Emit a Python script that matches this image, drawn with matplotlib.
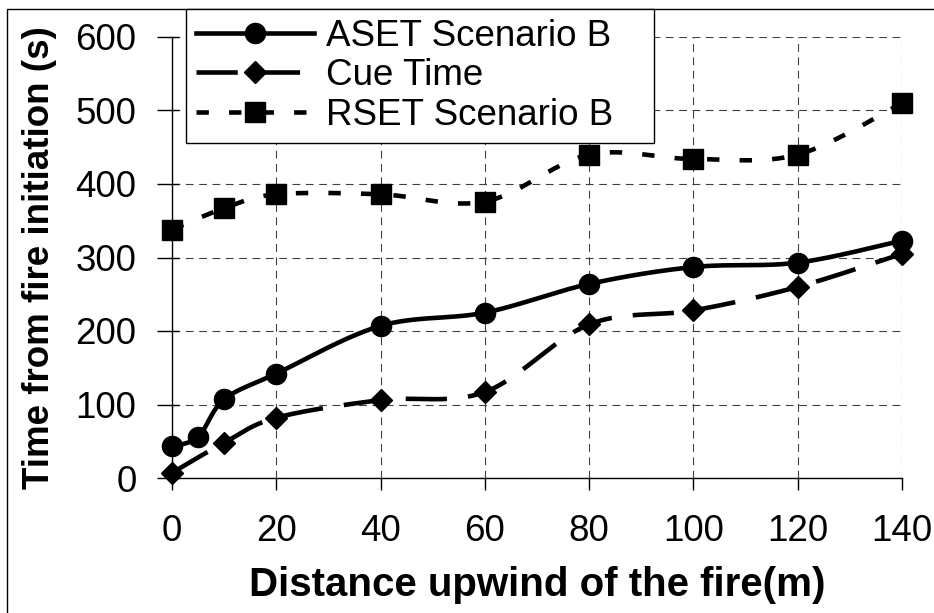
import numpy as np
import matplotlib
matplotlib.use('Agg')
import matplotlib.pyplot as plt
from matplotlib.lines import Line2D
from matplotlib.patches import Rectangle

plt.rcParams['font.family'] = ['Liberation Sans', 'DejaVu Sans']

# ---- data ----
distance_aset = [0, 5, 10, 20, 40, 60, 80, 100, 120, 140]
aset_b = [43, 56, 107, 142, 207, 225, 264, 287, 293, 323]

distance_cue = [0, 10, 20, 40, 60, 80, 100, 120, 140]
cue_time = [7, 48, 82, 106, 117, 209, 228, 260, 305]

distance_rset = [0, 10, 20, 40, 60, 80, 100, 120, 140]
rset_b = [338, 367, 386, 386, 376, 440, 434, 440, 510]

series_labels = ["ASET Scenario B", "Cue Time", "RSET Scenario B"]
x_ticks = [0, 20, 40, 60, 80, 100, 120, 140]
y_ticks = [0, 100, 200, 300, 400, 500, 600]
x_label = "Distance upwind of the fire(m)"
y_label = "Time from fire initiation (s)"

W, H = 934, 613
fig = plt.figure(figsize=(W / 100, H / 100), dpi=100)
ax = fig.add_axes([172 / W, 1 - 478 / H, (902 - 172) / W, (478 - 37) / H])
ax.set_xlim(x_ticks[0], x_ticks[-1])
ax.set_ylim(y_ticks[0], y_ticks[-1])


def smooth(xs, ys, n=40):
    """Excel-like smoothed line (Catmull-Rom Bezier) computed in display space."""
    pts = ax.transData.transform(np.column_stack([xs, ys]))
    P = np.vstack([pts[0], pts, pts[-1]])
    out = []
    t = np.linspace(0, 1, n)[:, None]
    for i in range(1, len(P) - 2):
        p0, p1, p2, p3 = P[i - 1], P[i], P[i + 1], P[i + 2]
        c1 = p1 + (p2 - p0) / 6.0
        c2 = p2 - (p3 - p1) / 6.0
        seg = (1 - t) ** 3 * p1 + 3 * (1 - t) ** 2 * t * c1 + 3 * (1 - t) * t ** 2 * c2 + t ** 3 * p2
        out.append(seg if i == 1 else seg[1:])
    curve = np.vstack(out)
    d = ax.transData.inverted().transform(curve)
    return d[:, 0], d[:, 1]


LW = 3.3
styles = [
    dict(ls='-', marker='o', ms=14.5, dashes=None),
    dict(ls='--', marker='D', ms=11.3, dashes=(9.0, 4.6)),
    dict(ls='--', marker='s', ms=14.0, dashes=(2.7, 4.4)),
]
data = [(distance_aset, aset_b), (distance_cue, cue_time), (distance_rset, rset_b)]

handles = []
for (xs, ys), st, lab in zip(data, styles, series_labels):
    sx, sy = smooth(xs, ys)
    line, = ax.plot(sx, sy, color='black', lw=LW, ls=st['ls'], zorder=3,
                    solid_capstyle='butt', dash_capstyle='butt')
    if st['dashes'] is not None:
        line.set_dashes(st['dashes'])
    ax.plot(xs, ys, ls='none', marker=st['marker'], ms=st['ms'],
            color='black', mec='black', zorder=4, clip_on=False)
    h = Line2D([], [], color='black', lw=LW, ls=st['ls'], marker=st['marker'],
               ms=st['ms'], mec='black', dash_capstyle='butt')
    if st['dashes'] is not None:
        h.set_dashes(st['dashes'])
    handles.append(h)

# grid & spines
ax.set_xticks(x_ticks)
ax.set_yticks(y_ticks)
ax.grid(True, color='#404040', lw=0.8, linestyle=(0, (7, 5)), zorder=1)
ax.set_axisbelow(True)
for s in ['top', 'right']:
    ax.spines[s].set_visible(False)
for s in ['left', 'bottom']:
    ax.spines[s].set_color('black')
    ax.spines[s].set_linewidth(1.0)
    ax.spines[s].set_zorder(2)

ax.tick_params(axis='x', which='major', direction='out', length=8.6, width=1,
               labelsize=26.5, pad=17)
ax.tick_params(axis='y', which='major', direction='out', length=10.5, width=1,
               labelsize=26.5, pad=15)
ax.yaxis.remove_overlapping_locs = False
ax.set_yticks(y_ticks, minor=True)
ax.tick_params(axis='y', which='minor', direction='in', length=5.3, width=1)

ax.set_xlabel(x_label, fontsize=29, fontweight='bold')
ax.xaxis.set_label_coords(0.5, (478 - 585) / 441)
ax.xaxis.label.set_va('center')
ax.set_ylabel(y_label, fontsize=26.5, fontweight='bold')
ax.yaxis.set_label_coords((40 - 172) / 730, 0.5)
ax.yaxis.label.set_va('center')
ax.yaxis.label.set_ha('center')

# legend
leg = fig.legend(handles, series_labels, loc='upper left',
                 bbox_to_anchor=(186 / W, 1 - 144 / H, (654 - 186) / W, (144 - 9) / H),
                 bbox_transform=fig.transFigure, mode='expand', borderaxespad=0,
                 fontsize=26.5, handlelength=3.2, handletextpad=0.33, borderpad=0.27,
                 labelspacing=0.12, fancybox=False, framealpha=1, edgecolor='black')
leg.get_frame().set_linewidth(1.0)

# outer chart border (top & left visible)
fig.patches.append(Rectangle((7 / W, -0.2), 2.0, 1.2 - 9 / H, transform=fig.transFigure,
                             fill=False, edgecolor='black', lw=1.0, zorder=0))

fig.savefig('out.png', dpi=100)
